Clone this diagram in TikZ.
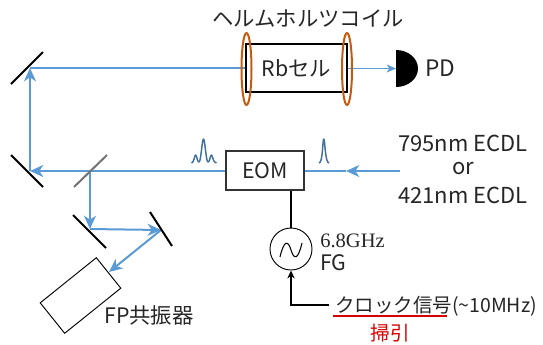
\documentclass[tikz,border=0pt]{standalone}
\usepackage{fontspec}
\setmainfont{Noto Sans CJK JP}
\newfontfamily\serifl{Liberation Serif}
\usetikzlibrary{arrows.meta}
\definecolor{beam}{RGB}{91,155,213}
\definecolor{coil}{RGB}{197,90,17}
\definecolor{peak}{RGB}{65,113,156}
\tikzset{
  x=0.75pt,y=-0.75pt,
  beamline/.style={draw=beam,line width=1.5pt},
  beamarrow/.style={beamline,-{Stealth[length=10pt,width=9pt,inset=3pt]}},
  mirror/.style={draw=black,line width=1.5pt},
  wire/.style={draw=black,line width=1.8pt},
  txt/.style={inner sep=0pt,font=\fontsize{16pt}{18pt}\selectfont,text=black!85},
  peakline/.style={draw=peak,line width=1.1pt,line join=round},
}
\begin{document}
\begin{tikzpicture}
\useasboundingbox[fill=white] (0,0) rectangle (543,344);
% named points on the beam paths
\coordinate (m1) at (30,68);
\coordinate (m2) at (30,171);
\coordinate (bs) at (90,171);
\coordinate (m3) at (90,229);
\coordinate (m4) at (161,230);
\coordinate (fpin) at (109,272);
\coordinate (src) at (400,171);
\coordinate (srcmid) at (346,171);
\coordinate (clk) at (329,305);
\coordinate (clkc) at (291,305);
\coordinate (pdin) at (396,68.5);
% boxes
\node[draw=black,line width=0.9pt,inner sep=0pt,txt,minimum width=75.75pt,minimum height=36pt] (cell) at (296.5,68) {Rbセル};
\node[draw=black!80,line width=0.9pt,inner sep=0pt,txt,minimum width=58.5pt,minimum height=29.25pt] (eom) at (265,170.5) {EOM};
\node[draw=black,line width=0.7pt,inner sep=0pt,minimum width=54pt,minimum height=29.3pt,rotate=38.8] (fp) at (80.5,295.5) {};
\node[draw=black,line width=0.7pt,circle,inner sep=0pt,minimum size=31.5pt] (fg) at (291,249) {};
% beams
\draw[beamline,line width=1.2pt] (m1) -- (cell.west |- m1);
\draw[beamarrow,line width=1.2pt,-{Stealth[length=7pt,width=6pt,inset=2pt]}] (cell.east |- pdin) -- (pdin);
\draw[beamarrow] (m2) -- (m1);
\draw[beamarrow] (eom.west |- m2) -- (m2);
\draw[beamarrow] (bs) -- (m3);
\draw[beamarrow] (m3) -- (m4);
\draw[beamarrow] (m4) -- (fpin);
\draw[beamarrow] (src) -- (srcmid);
\draw[beamline] (srcmid) -- (eom.east |- srcmid);
% coils
\draw[coil,line width=1.5pt] (246.5,69) ellipse [x radius=5,y radius=36];
\draw[coil,line width=1.5pt] (347,69) ellipse [x radius=5,y radius=36];
% mirrors
\draw[mirror] (11,84) -- (43,52);
\draw[mirror] (11,155) -- (43,187);
\draw[draw=black!55,line width=1.5pt] (107,155) -- (74,187);
\draw[mirror] (73,215) -- (106,248);
\draw[mirror] (150,212) -- (172,246);
% photodiode
\fill[black] (396,50) arc[start angle=-90,end angle=90,x radius=22,y radius=18.5] -- cycle;
% peaks
\draw[peakline] (191.5,163) .. controls (194,163) and (194.5,155) .. (195.5,155) .. controls (197,155) and (197,162) .. (199,162)
  .. controls (201,162) and (202,139) .. (203.5,139) .. controls (205,139) and (206,162) .. (208,162)
  .. controls (210,162) and (210,155) .. (211.5,155) .. controls (212.5,155) and (213,163) .. (216.5,163);
\draw[peakline] (319,163) .. controls (323,163) and (322.5,139) .. (323.8,139) .. controls (325,139) and (325,163) .. (329,163);
% electronics
\draw[wire] (eom.south -| fg) -- (fg);
\draw[wire,-{Stealth[length=6pt,width=5.5pt]}] (clk) -- (clkc) -- (fg);
\draw[draw=black,line width=0.8pt] (280,257) .. controls (284,240) and (288,240) .. (291,250) .. controls (294,260) and (298,260) .. (302,243);
\draw[draw=red!85!black,line width=1.1pt] (333,316) -- (447,316);
% text
\node[txt] (title) at (308,18) {ヘルムホルツコイル};
\node[txt,font=\fontsize{17pt}{19pt}\selectfont] (pd) at (440,68) {PD};
\node[txt,font=\fontsize{16.5pt}{18pt}\selectfont] (l1) at (463,143) {795nm ECDL};
\node[txt,font=\fontsize{16.5pt}{18pt}\selectfont] (l2) at (463,169) {or};
\node[txt,font=\fontsize{16.5pt}{18pt}\selectfont] (l3) at (463,195) {421nm ECDL};
\node[txt,anchor=west,font=\serifl\fontsize{15.4pt}{18pt}\selectfont] (ghz) at (320,241) {6.8GHz};
\node[txt,anchor=west] (fgt) at (320,263) {FG};
\node[txt,anchor=west,font=\fontsize{14.6pt}{16pt}\selectfont] (clkt) at (335,306) {クロック信号(\textasciitilde10MHz)};
\node[txt,text=red!85!black,font=\fontsize{14.7pt}{16pt}\selectfont] (sweep) at (390,333) {掃引};
\node[txt,anchor=west] (fpt) at (104,315) {FP共振器};
\end{tikzpicture}
\end{document}
